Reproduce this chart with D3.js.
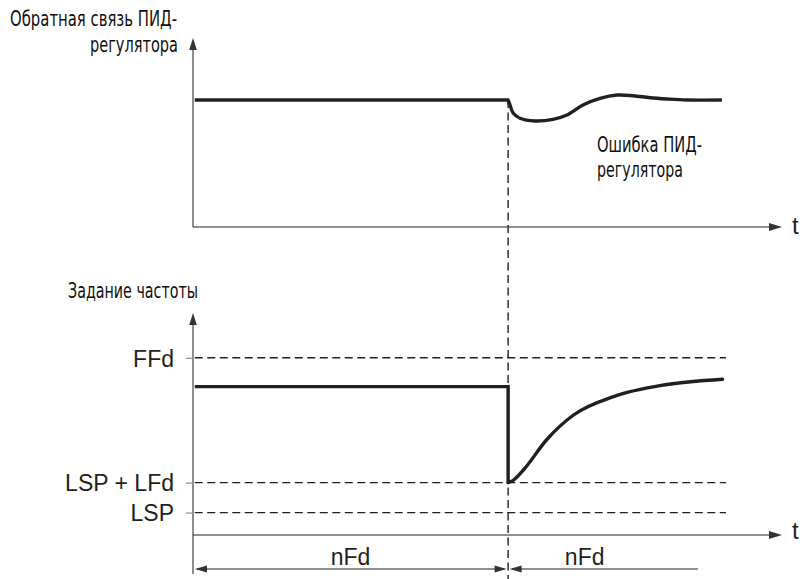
<!DOCTYPE html>
<html>
<head>
<meta charset="utf-8">
<script src="https://cdn.jsdelivr.net/npm/d3@7"></script>
<style>
  html, body { margin: 0; padding: 0; background: #fff; }
  svg { display: block; }
  .ru { font-family: "Liberation Sans Narrow", "DejaVu Sans Condensed", "Liberation Sans", sans-serif; fill: #111; }
  .lat { font-family: "Liberation Sans", Arial, sans-serif; fill: #231f20; }
</style>
</head>
<body>
<svg id="chart" width="805" height="579"></svg>
<script>
// ---------- data ----------
const topTitle = ["Обратная связь ПИД-", "регулятора"];
const topNote = ["Ошибка ПИД-", "регулятора"];
const bottomTitle = "Задание частоты";
const axisLabel = "t";
const levelNames = ["FFd", "LSP + LFd", "LSP"];
const levelValues = [88.6, 26.2, 11.2];
const intervalLabels = ["nFd", "nFd"];
const switchTime = 5.35;
const levelEnd = 9.05;

// feedback (top panel): steady part, then disturbance response
const feedbackSteadyT = [0.03, 5.348];
const feedbackSteadyV = [100, 100];
const feedbackT = [5.348, 5.382, 5.438, 5.552, 5.806, 6.112, 6.35, 6.621, 6.91, 7.199, 7.47, 7.759, 8.048, 8.387, 8.98];
const feedbackV = [100, 96.1, 89.5, 85.6, 83.5, 84.8, 88.2, 96.1, 101.3, 103.9, 103.4, 101.8, 100.8, 100, 100];

// frequency reference (bottom panel)
const stepT = [0.03, 5.35, 5.35];
const stepV = [74.2, 74.2, 26.2];
const recoveryT = [5.35, 5.43, 5.61, 6.0, 6.46, 7.14, 7.99, 8.99];
const recoveryV = [26.2, 27.2, 32.5, 47.5, 60.0, 69.2, 75.0, 77.9];

// ---------- layout ----------
const svg = d3.select("#chart");
const ink = "#231f20";
const axisGray = "#8e8e8e";

const x = d3.scaleLinear().domain([0, 10]).range([193, 782]);
const yTop = d3.scaleLinear().domain([0, 100]).range([227, 100]);
const yBot = d3.scaleLinear().domain([0, 100]).range([535, 335]);

function arrowHead(tipX, tipY, dir, len, half) {
  let pts;
  if (dir === "up") pts = [[tipX, tipY], [tipX - half, tipY + len], [tipX + half, tipY + len]];
  else if (dir === "right") pts = [[tipX, tipY], [tipX - len, tipY - half], [tipX - len, tipY + half]];
  else pts = [[tipX, tipY], [tipX + len, tipY - half], [tipX + len, tipY + half]];
  svg.append("path").attr("d", "M" + pts.map(p => p.join(",")).join("L") + "Z").attr("fill", "#333");
}

function ruText(str, xPos, yPos, width) {
  svg.append("text").attr("class", "ru").attr("x", xPos).attr("y", yPos).attr("font-size", 21)
    .attr("textLength", width).attr("lengthAdjust", "spacingAndGlyphs").text(str);
}

// ---------- top panel ----------
svg.append("line").attr("x1", x(0)).attr("x2", x(0)).attr("y1", 45).attr("y2", yTop(0))
  .attr("stroke", axisGray).attr("stroke-width", 2);
arrowHead(x(0), 38, "up", 12, 3.8);
const topXAxis = d3.axisBottom(x).tickValues([]).tickSizeOuter(0);
svg.append("g").attr("transform", `translate(0,${yTop(0)})`).call(topXAxis)
  .call(g => g.select(".domain").attr("stroke", ink).attr("stroke-width", 1.1).attr("d", `M${x(0)},0H${x(10) - 10}`));
arrowHead(x(10), yTop(0), "right", 13, 4);
svg.append("text").attr("class", "lat").attr("x", 792).attr("y", yTop(0) + 7)
  .attr("font-size", 24).text(axisLabel);

ruText(topTitle[0], 10, 26, 167);
ruText(topTitle[1], 90, 52, 88);
ruText(topNote[0], 597, 151.5, 105);
ruText(topNote[1], 597, 177, 86);

const steadyData = feedbackSteadyT.map((t, i) => [t, feedbackSteadyV[i]]);
const fbData = feedbackT.map((t, i) => [t, feedbackV[i]]);
const fbPath = d3.path();
const lineLin = d3.line().x(d => x(d[0])).y(d => yTop(d[1])).context(null);
const lineCurve = d3.line().x(d => x(d[0])).y(d => yTop(d[1])).curve(d3.curveCatmullRom.alpha(0.5));
const curveD = lineCurve(fbData);
svg.append("path")
  .attr("d", lineLin(steadyData) + "L" + curveD.slice(1))
  .attr("fill", "none").attr("stroke", ink).attr("stroke-width", 3.4).attr("stroke-linejoin", "round");

// ---------- bottom panel ----------
ruText(bottomTitle, 68, 298, 130);

svg.append("line").attr("x1", x(0)).attr("x2", x(0)).attr("y1", 320).attr("y2", 574)
  .attr("stroke", axisGray).attr("stroke-width", 2);
arrowHead(x(0), 313, "up", 12, 3.8);

const levelAxis = d3.axisLeft(yBot).tickValues(levelValues)
  .tickFormat((d, i) => levelNames[i]).tickSize(7).tickPadding(12);
svg.append("g").attr("transform", `translate(${x(0)},0)`).call(levelAxis)
  .call(g => g.select(".domain").remove())
  .call(g => g.selectAll(".tick line").attr("stroke", axisGray).attr("stroke-width", 1.2))
  .call(g => g.selectAll(".tick text").attr("class", "lat").attr("font-size", 23)
    .attr("fill", ink).attr("dy", "0.36em"));

svg.append("g").selectAll("line").data(levelValues).join("line")
  .attr("x1", x(0.03)).attr("x2", x(levelEnd))
  .attr("y1", d => yBot(d)).attr("y2", d => yBot(d))
  .attr("stroke", ink).attr("stroke-width", 1.4).attr("stroke-dasharray", "8,4.5");

const botXAxis = d3.axisBottom(x).tickValues([]).tickSizeOuter(0);
svg.append("g").attr("transform", `translate(0,${yBot(0)})`).call(botXAxis)
  .call(g => g.select(".domain").attr("stroke", ink).attr("stroke-width", 1.1).attr("d", `M${x(0)},0H${x(10) - 10}`));
arrowHead(x(10), yBot(0), "right", 13, 4);
svg.append("text").attr("class", "lat").attr("x", 792).attr("y", yBot(0) + 4)
  .attr("font-size", 24).text(axisLabel);

const stepData = stepT.map((t, i) => [t, stepV[i]]);
svg.append("path").datum(stepData)
  .attr("d", d3.line().x(d => x(d[0])).y(d => yBot(d[1])))
  .attr("fill", "none").attr("stroke", ink).attr("stroke-width", 3.4).attr("stroke-linejoin", "miter");
const recData = recoveryT.map((t, i) => [t, recoveryV[i]]);
svg.append("path").datum(recData)
  .attr("d", d3.line().x(d => x(d[0])).y(d => yBot(d[1])).curve(d3.curveMonotoneX))
  .attr("fill", "none").attr("stroke", ink).attr("stroke-width", 3.4).attr("stroke-linecap", "round");

svg.append("line").attr("x1", x(switchTime)).attr("x2", x(switchTime))
  .attr("y1", yTop(100)).attr("y2", 579)
  .attr("stroke", ink).attr("stroke-width", 1.4).attr("stroke-dasharray", "8,4.5");

const dimY = 569;
svg.append("line").attr("x1", x(0) + 4).attr("x2", x(switchTime) - 4).attr("y1", dimY).attr("y2", dimY)
  .attr("stroke", ink).attr("stroke-width", 1.1);
arrowHead(x(0) + 2, dimY, "left", 12, 3.5);
arrowHead(x(switchTime) - 1.5, dimY, "right", 12, 3.5);
svg.append("line").attr("x1", x(switchTime) + 4).attr("x2", 698).attr("y1", dimY).attr("y2", dimY)
  .attr("stroke", ink).attr("stroke-width", 1.1);
arrowHead(x(switchTime) + 1.5, dimY, "left", 12, 3.5);

const intervalCenters = [(0 + switchTime) / 2, (switchTime + 7.95) / 2];
svg.append("g").selectAll("text").data(intervalLabels).join("text")
  .attr("class", "lat").attr("font-size", 23).attr("text-anchor", "middle")
  .attr("x", (d, i) => x(intervalCenters[i])).attr("y", 565)
  .text(d => d);
</script>
</body>
</html>
